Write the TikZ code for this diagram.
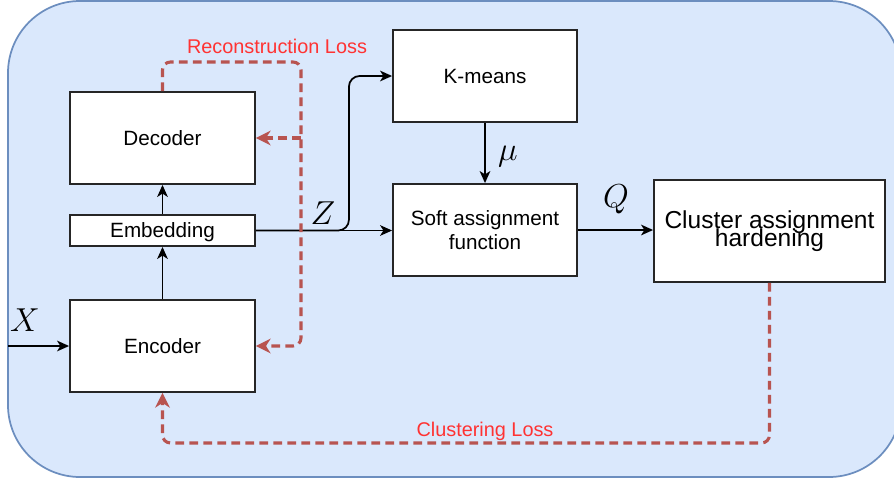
\documentclass[tikz,border=0pt]{standalone}
\usepackage{fontspec}
\setmainfont{Liberation Sans}
\usetikzlibrary{arrows.meta}
\definecolor{bgblue}{HTML}{DAE8FC}
\definecolor{bgline}{HTML}{6C8EBF}
\definecolor{lossred}{HTML}{B85450}
\definecolor{labelred}{HTML}{FF3333}

\begin{document}
\begin{tikzpicture}[x=0.75pt, y=-0.75pt]
    \tikzstyle block=[draw=black!85, fill=white, line width=1.4pt, inner sep=0pt, align=center, font=\fontsize{15.5}{18}\selectfont]
    \tikzstyle flow=[line width=1.3pt, -{Stealth[length=9pt,width=8pt,inset=2.5pt]}]
    \tikzstyle loss=[line width=2.3pt, lossred, dash pattern=on 6.5pt off 4pt, rounded corners=6pt, -{Stealth[length=11pt,width=11pt,inset=3.5pt]}]
    \tikzstyle losslabel=[labelred, font=\fontsize{14.9}{17}\selectfont]
    \tikzstyle symbol=[font=\fontsize{28}{30}\selectfont]
    \useasboundingbox (0,0) rectangle (894,483);
    \begin{scope}
      \clip (0,0) rectangle (894,483);
      \draw[fill=bgblue, draw=bgline, line width=1.3pt, rounded corners=54pt] (8,1) rectangle (901,477);
    \end{scope}
    % autoencoder
    \node[block, minimum width=138.75pt, minimum height=69pt] (decoder) at (162.5,138) {Decoder};
    \node[block, minimum width=138.75pt, minimum height=23.25pt, text height=11pt, text depth=0pt] (embedding) at (162.5,230.5) {Embedding};
    \node[block, minimum width=138.75pt, minimum height=69pt] (encoder) at (162.5,346) {Encoder};
    % clustering part
    \node[block, minimum width=138pt, minimum height=69pt] (kmeans) at (485,76) {K-means};
    \node[block, minimum width=138pt, minimum height=69pt] (soft) at (485,230) {Soft assignment\\function};
    \node[block, minimum width=173.25pt, minimum height=76.5pt, font=\fontsize{18.4}{20}\selectfont] (hardening) at (769.5,231) {Cluster assignment\\[-7pt]hardening};
    \coordinate (input) at (8,346);
    \draw[flow] (input) -- (encoder.west);
    \node[symbol] (xlabel) at (25,320) {$X$};
    \draw[flow] (encoder) -- (embedding);
    \draw[flow] (embedding) -- (decoder);
    \draw[flow] (embedding.east) -- (embedding.east -| soft.west);
    \draw[flow, rounded corners=8pt] (embedding.east) -- ++(93,0) |- (kmeans.west);
    \node[symbol] (zlabel) at (323,213) {$Z$};
    \draw[flow] (kmeans) -- (soft);
    \node[symbol] (mulabel) at (508,157) {$\mu$};
    \draw[flow] (soft) -- (soft.east -| hardening.west);
    \node[symbol] (qlabel) at (616,199) {$Q$};
    % losses
    \coordinate (recon) at (301,62);
    \draw[loss] (decoder.north) |- (recon) |- (encoder.east);
    \draw[loss] (recon |- decoder.east) -- (decoder.east);
    \node[losslabel] (reconlabel) at (277,46) {Reconstruction Loss};
    \coordinate (clust) at (769.5,443);
    \draw[loss] (hardening.south) -- (clust) -| (encoder.south);
    \node[losslabel] (clustlabel) at (485,431) {Clustering Loss};
\end{tikzpicture}
\end{document}
